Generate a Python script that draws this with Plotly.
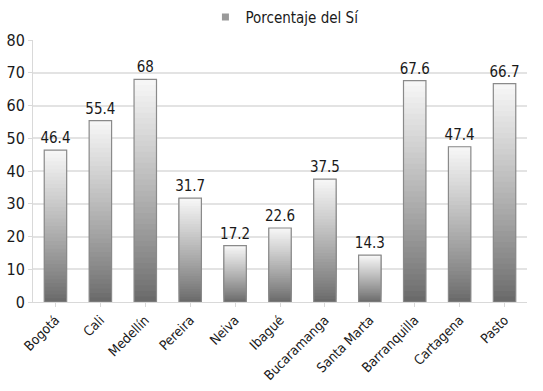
import plotly.graph_objects as go

cities = ["Bogotá", "Cali", "Medellín", "Pereira", "Neiva", "Ibagué",
          "Bucaramanga", "Santa Marta", "Barranquilla", "Cartagena", "Pasto"]
values = [46.4, 55.4, 68, 31.7, 17.2, 22.6, 37.5, 14.3, 67.6, 47.4, 66.7]
y_ticks = [0, 10, 20, 30, 40, 50, 60, 70, 80]
series_name = "Porcentaje del Sí"

FONT = "DejaVu Sans Condensed, Liberation Sans Narrow, Arial Narrow, sans-serif"

fig = go.Figure()

N = 40
dark, light = 106, 246
for k in range(N):
    frac = k / N
    g = int(round(dark + (light - dark) * (k / (N - 1)) ** 0.9))
    col = f"rgb({g},{g},{g})"
    fig.add_trace(go.Bar(
        x=cities,
        base=[v * frac for v in values],
        y=[v * (1 - frac) for v in values],
        marker=dict(color=col, line=dict(width=0)),
        width=0.5, showlegend=False, hoverinfo="skip",
    ))

# outline + labels
fig.add_trace(go.Bar(
    x=cities, y=values, base=[0] * len(values),
    marker=dict(color="rgba(0,0,0,0)", line=dict(color="#8a8a8a", width=1.2)),
    width=0.5, showlegend=False,
    text=[f"{v:g}" for v in values], textposition="outside",
    constraintext="none",
    textfont=dict(size=15, color="#1a1a1a", family=FONT),
    cliponaxis=False,
))

# legend entry
fig.add_trace(go.Scatter(x=[None], y=[None], name=series_name, mode="markers",
                         marker=dict(symbol="square", size=7, color="#9a9a9a")))

fig.update_layout(
    width=543, height=391,
    barmode="overlay",
    paper_bgcolor="white", plot_bgcolor="white",
    margin=dict(l=33, r=16, t=40, b=89, autoexpand=False),
    font=dict(family=FONT, color="#1a1a1a"),
    showlegend=True,
    legend=dict(orientation="h", x=0.51, xanchor="center", yref="container",
                y=0.998, yanchor="top", itemwidth=30,
                font=dict(size=15, family=FONT, color="#1a1a1a"),
                bgcolor="rgba(0,0,0,0)"),
    xaxis=dict(tickangle=-45, tickfont=dict(size=13.5, family=FONT),
               showgrid=False, showline=True, linecolor="#d9d9d9",
               ticks="outside", ticklen=4, tickcolor="#d9d9d9"),
    yaxis=dict(range=[0, 80], tickvals=y_ticks, tickfont=dict(size=16, family=FONT),
               showgrid=True, gridcolor="#e3e3e3", gridwidth=1.5,
               showline=True, linecolor="#d9d9d9", zeroline=False,
               ticks="outside", ticklen=4, tickcolor="#d9d9d9"),
    bargap=0.5,
)

fig.write_html("out.html", config={"displayModeBar": False},
               post_script="document.body.style.margin='0';document.body.style.overflow='hidden';")
